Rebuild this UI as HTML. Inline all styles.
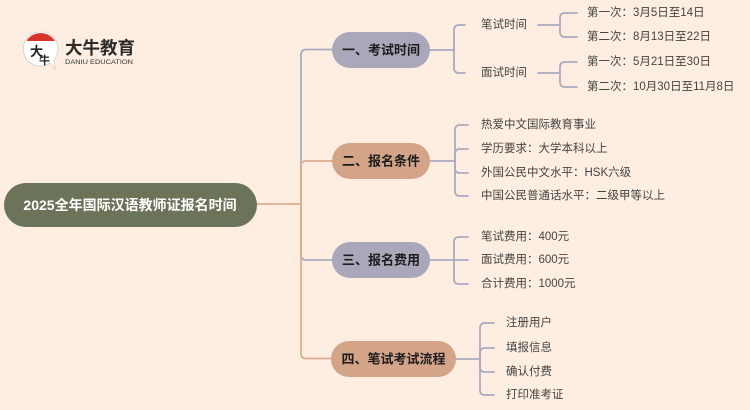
<!DOCTYPE html>
<html><head><meta charset="utf-8">
<style>
html,body{margin:0;padding:0;background:#fdeee1;}
svg{display:block;}
text{font-family:"Liberation Sans","Noto Sans CJK SC",sans-serif;}
</style></head>
<body>
<svg width="750" height="410" viewBox="0 0 750 410" xmlns="http://www.w3.org/2000/svg">
<rect width="750" height="410" fill="#fdeee1"/>
<!-- logo -->
<g>
  <path d="M40,32 A17,17 0 1 0 50,63 L55,69 L54,60 A17,17 0 0 0 40,32 Z" fill="#ffffff" stroke="#cfcfcf" stroke-width="0.8"/>
  <path d="M27,40 A17,17 0 0 1 55,41 L27,41 Z" fill="#d9342b"/>
  <text x="30" y="56" font-size="13" fill="#222" font-weight="bold">大</text>
  <text x="39" y="64" font-size="11" fill="#222" font-weight="bold">牛</text>
  <text x="65" y="54" font-size="17.5" font-weight="bold" fill="#2b2b2b">大牛教育</text>
  <text x="65" y="64" font-size="6.8" fill="#333" textLength="68" lengthAdjust="spacingAndGlyphs">DANIU EDUCATION</text>
</g>

<g fill="none" stroke-width="1.8" stroke-linecap="round">
  <!-- gray trunk branches -->
  <path d="M301,204 V55 Q301,49.5 306.5,49.5 H332" stroke="#a9abc2"/>
  <path d="M301,204 V255 Q301,260 306,260 H332" stroke="#a9abc2"/>
  <!-- orange trunk branches -->
  <path d="M257,204 H301" stroke="#dcae90"/>
  <path d="M301,204 V166 Q301,161 306,161 H332" stroke="#dcae90"/>
  <path d="M301,204 V353 Q301,358.5 306,358.5 H332" stroke="#dcae90"/>

  <!-- node1 children -->
  <g stroke="#a9abc2">
    <path d="M430,50 H454"/>
    <path d="M454,50 V30 Q454,25 459,25 H465"/>
    <path d="M454,50 V68 Q454,73 459,73 H465"/>
    <path d="M538,25 H560"/>
    <path d="M560,25 V18 Q560,13 565,13 H577"/>
    <path d="M560,25 V32 Q560,37 565,37 H577"/>
    <path d="M538,73 H560"/>
    <path d="M560,73 V67 Q560,62 565,62 H577"/>
    <path d="M560,73 V82 Q560,87 565,87 H577"/>

    <!-- node2 children -->
    <path d="M430,161 H455"/>
    <path d="M455,161 V130 Q455,125 460,125 H468"/>
    <path d="M455,161 V154 Q455,149 460,149 H468"/>
    <path d="M455,161 V168 Q455,173 460,173 H468"/>
    <path d="M455,161 V191 Q455,196 460,196 H468"/>

    <!-- node3 children -->
    <path d="M430,260 H454"/>
    <path d="M454,260 V242 Q454,237 459,237 H468"/>
    <path d="M454,260 H468"/>
    <path d="M454,260 V279 Q454,284 459,284 H468"/>

    <!-- node4 children -->
    <path d="M456,359 H480"/>
    <path d="M480,359 V328 Q480,323 485,323 H494"/>
    <path d="M480,359 V353 Q480,348 485,348 H494"/>
    <path d="M480,359 V367 Q480,372 485,372 H494"/>
    <path d="M480,359 V390 Q480,395 485,395 H494"/>
  </g>
</g>

<!-- root node -->
<rect x="4" y="183" width="253" height="44" rx="22" fill="#6b7459"/>
<text x="130" y="205" font-size="14" font-weight="bold" fill="#ffffff" text-anchor="middle" dominant-baseline="central">2025全年国际汉语教师证报名时间</text>

<!-- main nodes -->
<rect x="332" y="32" width="98" height="36" rx="18" fill="#a9a7b9"/>
<text x="381" y="50" font-size="13" font-weight="bold" fill="#1c1c1c" text-anchor="middle" dominant-baseline="central">一、考试时间</text>
<rect x="332" y="143" width="98" height="36" rx="18" fill="#d4a489"/>
<text x="381" y="161" font-size="13" font-weight="bold" fill="#1c1c1c" text-anchor="middle" dominant-baseline="central">二、报名条件</text>
<rect x="332" y="242" width="98" height="36" rx="18" fill="#a9a7b9"/>
<text x="381" y="260" font-size="13" font-weight="bold" fill="#1c1c1c" text-anchor="middle" dominant-baseline="central">三、报名费用</text>
<rect x="331" y="341" width="125" height="36" rx="18" fill="#d4a489"/>
<text x="393.5" y="359" font-size="13" font-weight="bold" fill="#1c1c1c" text-anchor="middle" dominant-baseline="central">四、笔试考试流程</text>

<!-- leaf texts -->
<g font-size="11.5" fill="#444" dominant-baseline="central">
  <text x="481" y="25">笔试时间</text>
  <text x="481" y="73">面试时间</text>
  <text x="587" y="13">第一次：3月5日至14日</text>
  <text x="587" y="37">第二次：8月13日至22日</text>
  <text x="587" y="62">第一次：5月21日至30日</text>
  <text x="587" y="87">第二次：10月30日至11月8日</text>

  <text x="481" y="125">热爱中文国际教育事业</text>
  <text x="481" y="149">学历要求：大学本科以上</text>
  <text x="481" y="173">外国公民中文水平：HSK六级</text>
  <text x="481" y="196">中国公民普通话水平：二级甲等以上</text>

  <text x="481" y="237">笔试费用：400元</text>
  <text x="481" y="260">面试费用：600元</text>
  <text x="481" y="284">合计费用：1000元</text>

  <text x="506" y="323">注册用户</text>
  <text x="506" y="348">填报信息</text>
  <text x="506" y="372">确认付费</text>
  <text x="506" y="395">打印准考证</text>
</g>
</svg>
</body></html>
